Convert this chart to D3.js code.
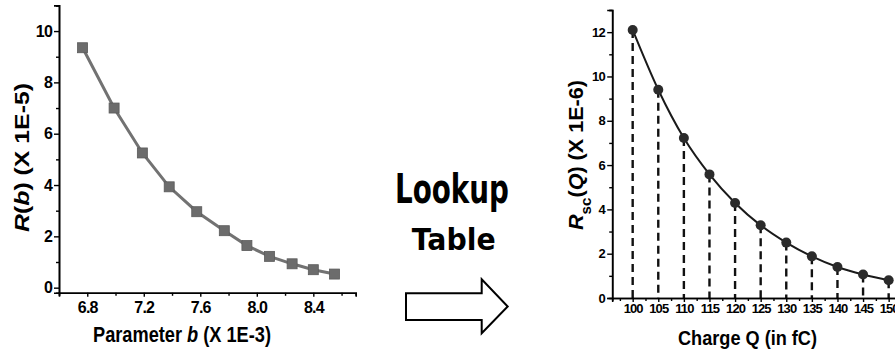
<!DOCTYPE html>
<html>
<head>
<meta charset="utf-8">
<script src="https://cdn.jsdelivr.net/npm/d3@7"></script>
<style>
  body { margin: 0; background: #fff; }
  svg { display: block; font-family: "Liberation Sans", Arial, sans-serif; }
</style>
</head>
<body>
<div id="chart"></div>
<script>
// left panel: R(b) against parameter b
const bParam = [6.767, 6.99, 7.19, 7.38, 7.575, 7.77, 7.93, 8.09, 8.25, 8.40, 8.55];
const rB = [9.35, 7.0, 5.25, 3.93, 2.96, 2.22, 1.64, 1.22, 0.93, 0.70, 0.53];
const bTicks = [6.8, 7.2, 7.6, 8.0, 8.4];
const bMinor = [6.6, 7.0, 7.4, 7.8, 8.2, 8.6];
const rBTicks = [0, 2, 4, 6, 8, 10];
const rBMinor = [1, 3, 5, 7, 9, 11];

// right panel: Rsc(Q) against charge Q
const charge = [100, 105, 110, 115, 120, 125, 130, 135, 140, 145, 150];
const rsc = [12.1, 9.4, 7.22, 5.58, 4.29, 3.28, 2.50, 1.88, 1.40, 1.06, 0.80];
const qTicks = [100, 105, 110, 115, 120, 125, 130, 135, 140, 145, 150];
const qMinor = [97.5, 102.5, 107.5, 112.5, 117.5, 122.5, 127.5, 132.5, 137.5, 142.5, 147.5];
const rscTicks = [0, 2, 4, 6, 8, 10, 12];
const rscMinor = [1, 3, 5, 7, 9, 11, 13];

const W = 895, H = 356;
const svg = d3.select("#chart").append("svg")
  .attr("width", W).attr("height", H);

function styleAxis(g, size, ls) {
  g.select(".domain").attr("stroke", "#000").attr("stroke-width", 1.6);
  g.selectAll(".tick line").attr("stroke", "#000").attr("stroke-width", 1.4);
  g.selectAll(".tick text")
    .attr("fill", "#000")
    .style("font-size", size + "px")
    .style("font-weight", "bold")
    .style("letter-spacing", ls + "px");
}

// ---------- left chart ----------
var x1 = d3.scaleLinear().domain([6.6, 8.7]).range([59, 355.7]);
var y1 = d3.scaleLinear().domain([-0.2, 11]).range([292.8, 5.4]);

svg.append("g")
  .attr("transform", "translate(0," + y1(-0.2) + ")")
  .call(d3.axisBottom(x1).tickValues(bMinor).tickSize(3).tickFormat(""))
  .call(g => styleAxis(g, 16, -0.8));
svg.append("g")
  .attr("transform", "translate(0," + y1(-0.2) + ")")
  .call(d3.axisBottom(x1).tickValues(bTicks).tickSize(4).tickPadding(5).tickFormat(d3.format(".1f")))
  .call(g => styleAxis(g, 16, -0.8));

svg.append("g")
  .attr("transform", "translate(" + x1(6.6) + ",0)")
  .call(d3.axisLeft(y1).tickValues(rBMinor).tickSize(3).tickFormat(""))
  .call(g => styleAxis(g, 16, -0.8));
svg.append("g")
  .attr("transform", "translate(" + x1(6.6) + ",0)")
  .call(d3.axisLeft(y1).tickValues(rBTicks).tickSize(5).tickPadding(2))
  .call(g => styleAxis(g, 16, -0.8));

var leftPts = bParam.map((b, i) => ({x: b, y: rB[i]}));
svg.append("path")
  .datum(leftPts)
  .attr("fill", "none")
  .attr("stroke", "#727272")
  .attr("stroke-width", 3)
  .attr("d", d3.line().x(d => x1(d.x)).y(d => y1(d.y)));

svg.selectAll(".sq")
  .data(leftPts)
  .enter()
  .append("rect")
  .attr("class", "sq")
  .attr("x", d => x1(d.x) - 5)
  .attr("y", d => y1(d.y) - 5)
  .attr("width", 10)
  .attr("height", 10)
  .attr("fill", "#6c6c6c")
  .attr("stroke", "#5a5a5a")
  .attr("stroke-width", 0.8);

// axis titles
var t1 = svg.append("text")
  .attr("x", 182).attr("y", 342)
  .attr("text-anchor", "middle")
  .attr("textLength", 178).attr("lengthAdjust", "spacingAndGlyphs")
  .style("font-size", "22px").style("font-weight", "bold");
t1.append("tspan").text("Parameter\u00a0");
t1.append("tspan").style("font-style", "italic").text("b");
t1.append("tspan").text("\u00a0(X 1E-3)");

var t2 = svg.append("text")
  .attr("transform", "translate(29,157.5) rotate(-90)")
  .attr("text-anchor", "middle")
  .attr("textLength", 149).attr("lengthAdjust", "spacingAndGlyphs")
  .style("font-size", "21px").style("font-weight", "bold");
t2.append("tspan").style("font-style", "italic").text("R");
t2.append("tspan").text("(");
t2.append("tspan").style("font-style", "italic").text("b");
t2.append("tspan").text(") (X 1E-5)");

// ---------- middle: lookup table arrow ----------
svg.append("text")
  .attr("x", 452).attr("y", 203)
  .attr("text-anchor", "middle")
  .attr("textLength", 114).attr("lengthAdjust", "spacingAndGlyphs")
  .style("font-family", "'DejaVu Sans', sans-serif")
  .style("font-size", "41px").style("font-weight", "bold")
  .text("Lookup");
svg.append("text")
  .attr("x", 453.7).attr("y", 250)
  .attr("text-anchor", "middle")
  .attr("textLength", 84).attr("lengthAdjust", "spacingAndGlyphs")
  .style("font-family", "'DejaVu Sans', sans-serif")
  .style("font-size", "30px").style("font-weight", "bold")
  .text("Table");

svg.append("path")
  .attr("d", "M406,293.3 H481.7 V279.3 L507.7,306.5 L481.7,333.3 V320 H406 Z")
  .attr("fill", "#fff")
  .attr("stroke", "#000")
  .attr("stroke-width", 2);

// ---------- right chart ----------
var x2 = d3.scaleLinear().domain([96, 152]).range([612.2, 898.9]);
var y2 = d3.scaleLinear().domain([0, 13]).range([298, 10]);

var rightPts = charge.map((q, i) => ({x: q, y: rsc[i]}));

svg.selectAll(".drop")
  .data(rightPts)
  .enter()
  .append("line")
  .attr("class", "drop")
  .attr("x1", d => x2(d.x)).attr("x2", d => x2(d.x))
  .attr("y1", d => y2(d.y)).attr("y2", y2(0))
  .attr("stroke", "#111")
  .attr("stroke-width", 2.4)
  .attr("stroke-dasharray", "8,5");

svg.append("g")
  .attr("transform", "translate(0," + y2(0) + ")")
  .call(d3.axisBottom(x2).tickValues(qMinor).tickSize(3).tickFormat(""))
  .call(g => styleAxis(g, 13, -0.9));
svg.append("g")
  .attr("transform", "translate(0," + y2(0) + ")")
  .call(d3.axisBottom(x2).tickValues(qTicks).tickSize(4).tickPadding(2))
  .call(g => styleAxis(g, 13, -0.9));

svg.append("g")
  .attr("transform", "translate(" + x2(96) + ",0)")
  .call(d3.axisLeft(y2).tickValues(rscMinor).tickSize(3).tickFormat(""))
  .call(g => styleAxis(g, 13, -0.6));
svg.append("g")
  .attr("transform", "translate(" + x2(96) + ",0)")
  .call(d3.axisLeft(y2).tickValues(rscTicks).tickSize(5).tickPadding(2))
  .call(g => styleAxis(g, 13, -0.6));

svg.append("path")
  .datum(rightPts)
  .attr("fill", "none")
  .attr("stroke", "#1a1a1a")
  .attr("stroke-width", 2)
  .attr("d", d3.line().curve(d3.curveMonotoneX).x(d => x2(d.x)).y(d => y2(d.y)));

svg.selectAll(".dot")
  .data(rightPts)
  .enter()
  .append("circle")
  .attr("class", "dot")
  .attr("cx", d => x2(d.x))
  .attr("cy", d => y2(d.y))
  .attr("r", 5)
  .attr("fill", "#2b2b2b");

svg.append("text")
  .attr("x", 747.5).attr("y", 345)
  .attr("text-anchor", "middle")
  .attr("textLength", 139).attr("lengthAdjust", "spacingAndGlyphs")
  .style("font-size", "20px").style("font-weight", "bold")
  .text("Charge Q (in fC)");

var t4 = svg.append("text")
  .attr("transform", "translate(583,155) rotate(-90)")
  .attr("text-anchor", "middle")
  .attr("textLength", 150).attr("lengthAdjust", "spacingAndGlyphs")
  .style("font-size", "20px").style("font-weight", "bold");
t4.append("tspan").style("font-style", "italic").text("R");
t4.append("tspan").attr("baseline-shift", "sub").style("font-size", "14px").text("sc");
t4.append("tspan").text("(");
t4.append("tspan").style("font-style", "italic").text("Q");
t4.append("tspan").text(") (X 1E-6)");
</script>
</body>
</html>
